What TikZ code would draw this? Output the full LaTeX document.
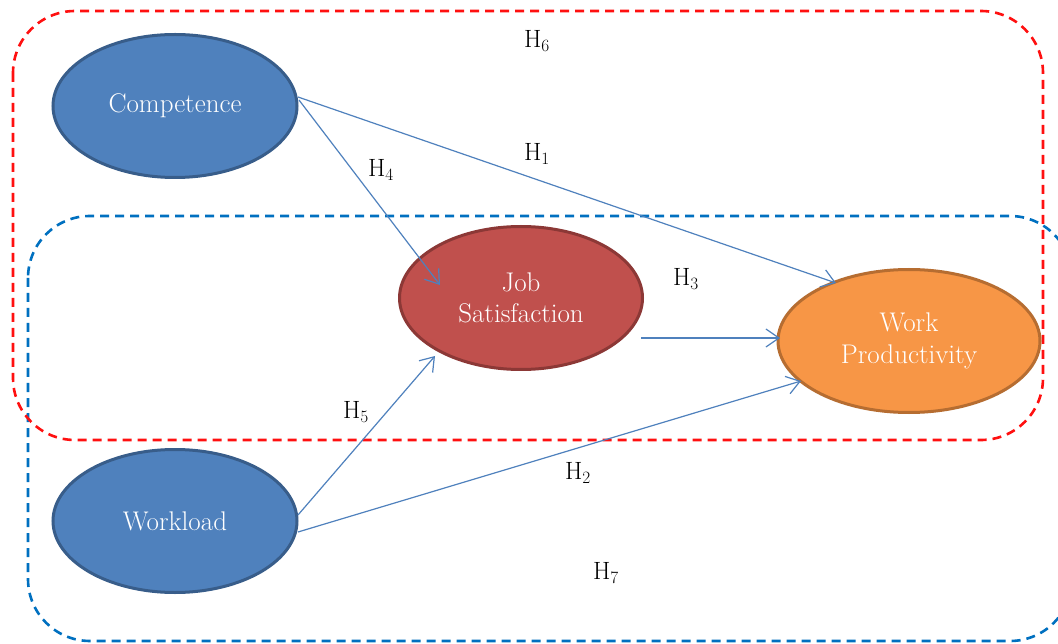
\documentclass[tikz,border=0pt]{standalone}
\usetikzlibrary{shapes.geometric,arrows.meta}
\definecolor{cblue}{HTML}{4F81BD}
\definecolor{cblueb}{HTML}{385D8A}
\definecolor{cred}{HTML}{C0504D}
\definecolor{credb}{HTML}{8C3836}
\definecolor{corange}{HTML}{F79646}
\definecolor{coranb}{HTML}{B66D31}
\definecolor{boxred}{HTML}{FF1010}
\definecolor{boxblue}{HTML}{0070C0}
\tikzset{
  var/.style={ellipse, minimum width=244, minimum height=143, inner sep=0pt, line width=3pt, text=white, align=center, font=\fontsize{27}{32}\selectfont},
  conn/.style={draw=cblue, line width=1.2pt, -{Straight Barb[length=13pt,width=18pt,line width=1.2pt]}},
  hyp/.style={font=\fontsize{25}{28}\selectfont, inner sep=0pt},
  region/.style={dash pattern=on 9pt off 6pt, line width=2.6pt, rounded corners=62pt}
}
\begin{document}
\begin{tikzpicture}[x=1pt,y=-1pt]
\clip (0,0) rectangle (1058,644);
\fill[white] (0,0) rectangle (1058,644);
% regions
\draw[region, draw=boxblue] (28,216) rectangle (1072,641);
\draw[region, draw=boxred] (13,11) rectangle (1043,440);
% nodes
\node[var, fill=cblue, draw=cblueb] (comp) at (175,106) {Competence};
\node[var, fill=cblue, draw=cblueb] (work) at (175,521) {Workload};
\node[var, fill=cred, draw=credb, minimum width=243] (job) at (521,298) {Job\\[-1pt]Satisfaction};
\node[var, fill=corange, draw=coranb, minimum width=262] (prod) at (909,341) {Work\\[0pt]Productivity};
% connectors
\coordinate (c1) at (298,97);
\coordinate (c2) at (299,100);
\coordinate (w1) at (298,515);
\coordinate (w2) at (298,532);
\coordinate (jr) at (641,338);
\draw[conn] (c1) -- (836,283);
\draw[conn] (c2) -- (440,285);
\draw[conn] (jr) -- (780,338);
\draw[conn] (w1) -- (435,356);
\draw[conn] (w2) -- (801,381);
% labels
\node[hyp] (h6) at (537,41) {H$_6$};
\node[hyp] (h1) at (537,154) {H$_1$};
\node[hyp] (h4) at (381,170) {H$_4$};
\node[hyp] (h3) at (686,279) {H$_3$};
\node[hyp] (h5) at (356,412) {H$_5$};
\node[hyp] (h2) at (578,473) {H$_2$};
\node[hyp] (h7) at (606,573) {H$_7$};
\end{tikzpicture}
\end{document}
